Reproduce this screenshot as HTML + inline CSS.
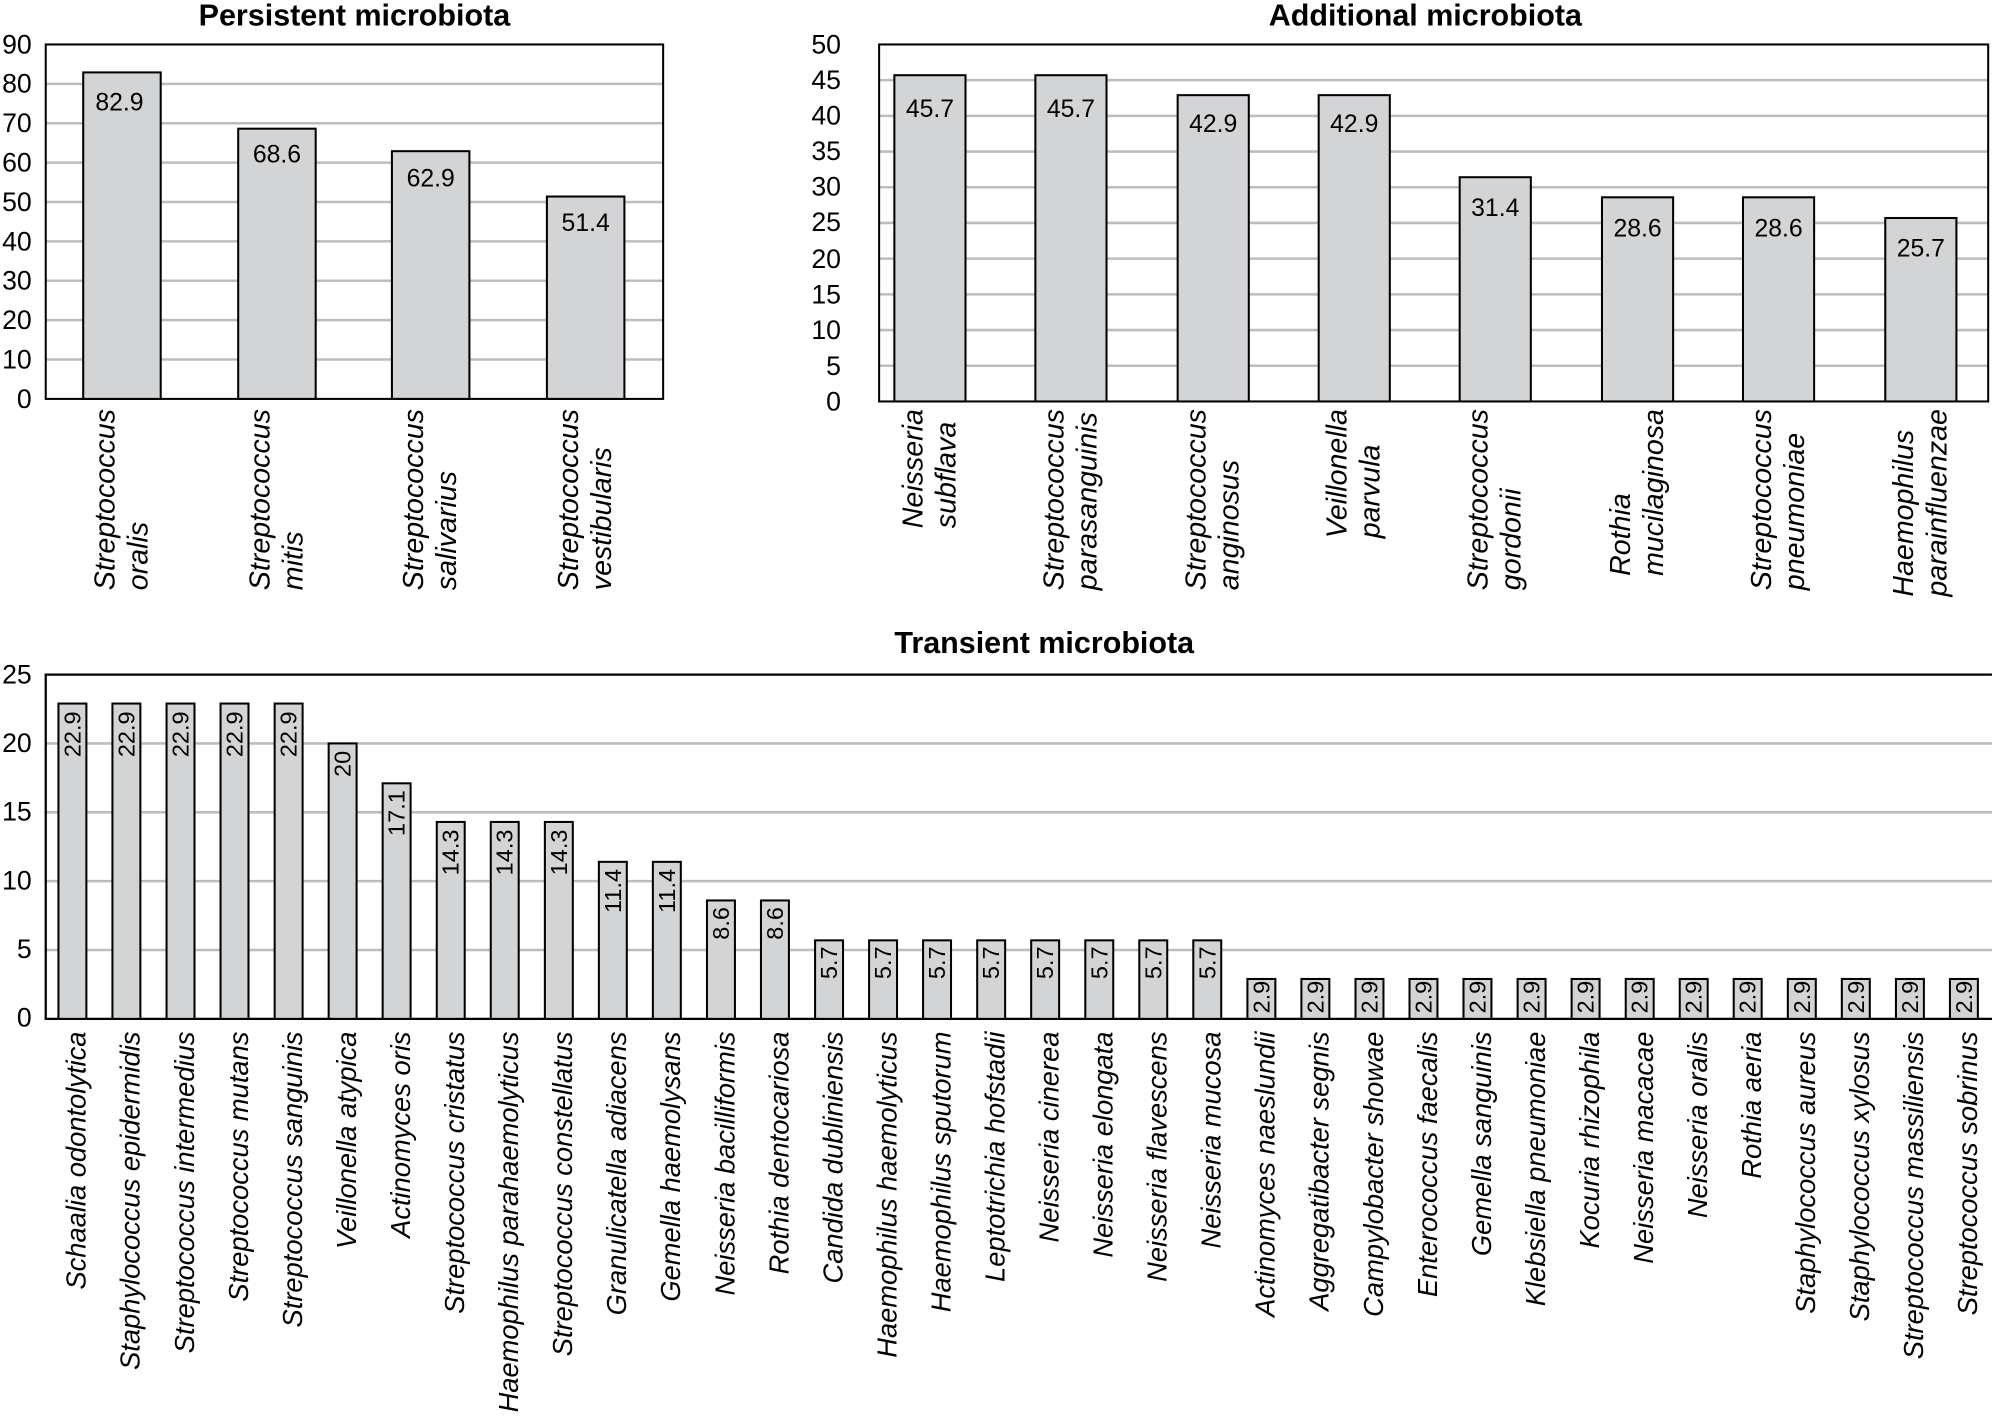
<!DOCTYPE html>
<html><head><meta charset="utf-8"><style>
html,body{margin:0;padding:0;background:#fff;width:1992px;height:1427px;overflow:hidden}
#w{position:absolute;left:0;top:0;width:1568px;height:1123px;transform:scale(1.2704);transform-origin:0 0}
svg{position:absolute;left:0;top:0}
text{font-family:"Liberation Sans",sans-serif}
.t{font-weight:bold;font-size:24px;text-anchor:middle}
.k{font-size:21px;text-anchor:end}
.v{font-size:19.5px;text-anchor:middle}
.rv{font-size:18.5px;text-anchor:end;dominant-baseline:central}
.xl{font-size:21.5px;font-style:italic;text-anchor:end;dominant-baseline:central}
.g{stroke:#bdbdbd;stroke-width:2}
.b{fill:#d3d4d6;stroke:#000;stroke-width:1.6}
.lab{position:absolute;top:322px;font-family:"Liberation Sans",sans-serif;font-style:italic;font-size:22.5px;line-height:26px;writing-mode:vertical-rl;transform:translateX(-50%) rotate(180deg);white-space:nowrap;text-align:start}
</style></head><body><div id="w">
<svg width="1568" height="1123" viewBox="0 0 1568 1123">
<!-- Persistent -->
<text class="t" x="279" y="20">Persistent microbiota</text>
<g class="g"><line x1="36" x2="522" y1="66" y2="66"/><line x1="36" x2="522" y1="97" y2="97"/><line x1="36" x2="522" y1="128" y2="128"/><line x1="36" x2="522" y1="159" y2="159"/><line x1="36" x2="522" y1="190" y2="190"/><line x1="36" x2="522" y1="221" y2="221"/><line x1="36" x2="522" y1="252" y2="252"/><line x1="36" x2="522" y1="283" y2="283"/></g>
<rect x="36" y="35" width="486" height="279" fill="none" stroke="#000" stroke-width="1.6"/>
<g class="k"><text x="25" y="42">90</text><text x="25" y="73">80</text><text x="25" y="104">70</text><text x="25" y="135">60</text><text x="25" y="166">50</text><text x="25" y="197">40</text><text x="25" y="228">30</text><text x="25" y="259">20</text><text x="25" y="290">10</text><text x="25" y="321">0</text></g>
<rect class="b" x="65.5" y="57" width="61" height="257"/>
<rect class="b" x="187.5" y="101.3" width="61" height="212.7"/>
<rect class="b" x="308.5" y="119" width="61" height="195"/>
<rect class="b" x="430.5" y="154.7" width="61" height="159.3"/>
<g class="v"><text x="94" y="87">82.9</text><text x="218" y="128">68.6</text><text x="339" y="147">62.9</text><text x="461" y="182">51.4</text></g>
<!-- Additional -->
<text class="t" x="1122" y="20">Additional microbiota</text>
<g class="g"><line x1="692" x2="1565" y1="63.1" y2="63.1"/><line x1="692" x2="1565" y1="91.2" y2="91.2"/><line x1="692" x2="1565" y1="119.3" y2="119.3"/><line x1="692" x2="1565" y1="147.4" y2="147.4"/><line x1="692" x2="1565" y1="175.5" y2="175.5"/><line x1="692" x2="1565" y1="203.6" y2="203.6"/><line x1="692" x2="1565" y1="231.7" y2="231.7"/><line x1="692" x2="1565" y1="259.8" y2="259.8"/><line x1="692" x2="1565" y1="287.9" y2="287.9"/></g>
<rect x="692" y="35" width="873" height="281" fill="none" stroke="#000" stroke-width="1.6"/>
<g class="k"><text x="662" y="42">50</text><text x="662" y="70">45</text><text x="662" y="98">40</text><text x="662" y="126">35</text><text x="662" y="154">30</text><text x="662" y="182">25</text><text x="662" y="211">20</text><text x="662" y="239">15</text><text x="662" y="267">10</text><text x="662" y="295">5</text><text x="662" y="323">0</text></g>
<rect class="b" x="704" y="59.2" width="56" height="256.8"/>
<rect class="b" x="815" y="59.2" width="56" height="256.8"/>
<rect class="b" x="927" y="74.9" width="56" height="241.1"/>
<rect class="b" x="1038" y="74.9" width="56" height="241.1"/>
<rect class="b" x="1149" y="139.5" width="56" height="176.5"/>
<rect class="b" x="1261" y="155.3" width="56" height="160.7"/>
<rect class="b" x="1372" y="155.3" width="56" height="160.7"/>
<rect class="b" x="1484" y="171.6" width="56" height="144.4"/>
<g class="v"><text x="732" y="92">45.7</text><text x="843" y="92">45.7</text><text x="955" y="104">42.9</text><text x="1066" y="104">42.9</text><text x="1177" y="170">31.4</text><text x="1289" y="186">28.6</text><text x="1400" y="186">28.6</text><text x="1512" y="202">25.7</text></g>
<!-- Transient -->
<text class="t" x="822" y="514">Transient microbiota</text>
<g class="g"><line x1="36" x2="1568" y1="585.2" y2="585.2"/><line x1="36" x2="1568" y1="639.4" y2="639.4"/><line x1="36" x2="1568" y1="693.6" y2="693.6"/><line x1="36" x2="1568" y1="747.8" y2="747.8"/></g>
<polyline points="1568,531 36,531 36,802 1568,802" fill="none" stroke="#000" stroke-width="1.8"/>
<g class="k"><text x="25" y="538">25</text><text x="25" y="592">20</text><text x="25" y="646">15</text><text x="25" y="700">10</text><text x="25" y="754">5</text><text x="25" y="808">0</text></g>
<g transform="translate(57,0)"><rect class="b" x="-11" y="553.8" width="22" height="248.2"/><text class="rv" transform="translate(0,560) rotate(-90)">22.9</text><text class="xl" transform="translate(3,812) rotate(-90)">Schaalia odontolytica</text></g>
<g transform="translate(99.5,0)"><rect class="b" x="-11" y="553.8" width="22" height="248.2"/><text class="rv" transform="translate(0,560) rotate(-90)">22.9</text><text class="xl" transform="translate(3,812) rotate(-90)">Staphylococcus epidermidis</text></g>
<g transform="translate(142.1,0)"><rect class="b" x="-11" y="553.8" width="22" height="248.2"/><text class="rv" transform="translate(0,560) rotate(-90)">22.9</text><text class="xl" transform="translate(3,812) rotate(-90)">Streptococcus intermedius</text></g>
<g transform="translate(184.6,0)"><rect class="b" x="-11" y="553.8" width="22" height="248.2"/><text class="rv" transform="translate(0,560) rotate(-90)">22.9</text><text class="xl" transform="translate(3,812) rotate(-90)">Streptococcus mutans</text></g>
<g transform="translate(227.2,0)"><rect class="b" x="-11" y="553.8" width="22" height="248.2"/><text class="rv" transform="translate(0,560) rotate(-90)">22.9</text><text class="xl" transform="translate(3,812) rotate(-90)">Streptococcus sanguinis</text></g>
<g transform="translate(269.7,0)"><rect class="b" x="-11" y="585.2" width="22" height="216.8"/><text class="rv" transform="translate(0,591) rotate(-90)">20</text><text class="xl" transform="translate(3,812) rotate(-90)">Veillonella atypica</text></g>
<g transform="translate(312.2,0)"><rect class="b" x="-11" y="616.6" width="22" height="185.4"/><text class="rv" transform="translate(0,622) rotate(-90)">17.1</text><text class="xl" transform="translate(3,812) rotate(-90)">Actinomyces oris</text></g>
<g transform="translate(354.8,0)"><rect class="b" x="-11" y="647" width="22" height="155"/><text class="rv" transform="translate(0,653) rotate(-90)">14.3</text><text class="xl" transform="translate(3,812) rotate(-90)">Streptococcus cristatus</text></g>
<g transform="translate(397.3,0)"><rect class="b" x="-11" y="647" width="22" height="155"/><text class="rv" transform="translate(0,653) rotate(-90)">14.3</text><text class="xl" transform="translate(3,812) rotate(-90)">Haemophilus parahaemolyticus</text></g>
<g transform="translate(439.9,0)"><rect class="b" x="-11" y="647" width="22" height="155"/><text class="rv" transform="translate(0,653) rotate(-90)">14.3</text><text class="xl" transform="translate(3,812) rotate(-90)">Streptococcus constellatus</text></g>
<g transform="translate(482.4,0)"><rect class="b" x="-11" y="678.4" width="22" height="123.6"/><text class="rv" transform="translate(0,684) rotate(-90)">11.4</text><text class="xl" transform="translate(3,812) rotate(-90)">Granulicatella adiacens</text></g>
<g transform="translate(524.9,0)"><rect class="b" x="-11" y="678.4" width="22" height="123.6"/><text class="rv" transform="translate(0,684) rotate(-90)">11.4</text><text class="xl" transform="translate(3,812) rotate(-90)">Gemella haemolysans</text></g>
<g transform="translate(567.5,0)"><rect class="b" x="-11" y="708.8" width="22" height="93.2"/><text class="rv" transform="translate(0,714) rotate(-90)">8.6</text><text class="xl" transform="translate(3,812) rotate(-90)">Neisseria bacilliformis</text></g>
<g transform="translate(610,0)"><rect class="b" x="-11" y="708.8" width="22" height="93.2"/><text class="rv" transform="translate(0,714) rotate(-90)">8.6</text><text class="xl" transform="translate(3,812) rotate(-90)">Rothia dentocariosa</text></g>
<g transform="translate(652.6,0)"><rect class="b" x="-11" y="740.2" width="22" height="61.8"/><text class="rv" transform="translate(0,745) rotate(-90)">5.7</text><text class="xl" transform="translate(3,812) rotate(-90)">Candida dubliniensis</text></g>
<g transform="translate(695.1,0)"><rect class="b" x="-11" y="740.2" width="22" height="61.8"/><text class="rv" transform="translate(0,745) rotate(-90)">5.7</text><text class="xl" transform="translate(3,812) rotate(-90)">Haemophilus haemolyticus</text></g>
<g transform="translate(737.6,0)"><rect class="b" x="-11" y="740.2" width="22" height="61.8"/><text class="rv" transform="translate(0,745) rotate(-90)">5.7</text><text class="xl" transform="translate(3,812) rotate(-90)">Haemophilus sputorum</text></g>
<g transform="translate(780.2,0)"><rect class="b" x="-11" y="740.2" width="22" height="61.8"/><text class="rv" transform="translate(0,745) rotate(-90)">5.7</text><text class="xl" transform="translate(3,812) rotate(-90)">Leptotrichia hofstadii</text></g>
<g transform="translate(822.7,0)"><rect class="b" x="-11" y="740.2" width="22" height="61.8"/><text class="rv" transform="translate(0,745) rotate(-90)">5.7</text><text class="xl" transform="translate(3,812) rotate(-90)">Neisseria cinerea</text></g>
<g transform="translate(865.3,0)"><rect class="b" x="-11" y="740.2" width="22" height="61.8"/><text class="rv" transform="translate(0,745) rotate(-90)">5.7</text><text class="xl" transform="translate(3,812) rotate(-90)">Neisseria elongata</text></g>
<g transform="translate(907.8,0)"><rect class="b" x="-11" y="740.2" width="22" height="61.8"/><text class="rv" transform="translate(0,745) rotate(-90)">5.7</text><text class="xl" transform="translate(3,812) rotate(-90)">Neisseria flavescens</text></g>
<g transform="translate(950.3,0)"><rect class="b" x="-11" y="740.2" width="22" height="61.8"/><text class="rv" transform="translate(0,745) rotate(-90)">5.7</text><text class="xl" transform="translate(3,812) rotate(-90)">Neisseria mucosa</text></g>
<g transform="translate(992.9,0)"><rect class="b" x="-11" y="770.6" width="22" height="31.4"/><text class="rv" transform="translate(0,772) rotate(-90)">2.9</text><text class="xl" transform="translate(3,812) rotate(-90)">Actinomyces naeslundii</text></g>
<g transform="translate(1035.4,0)"><rect class="b" x="-11" y="770.6" width="22" height="31.4"/><text class="rv" transform="translate(0,772) rotate(-90)">2.9</text><text class="xl" transform="translate(3,812) rotate(-90)">Aggregatibacter segnis</text></g>
<g transform="translate(1078,0)"><rect class="b" x="-11" y="770.6" width="22" height="31.4"/><text class="rv" transform="translate(0,772) rotate(-90)">2.9</text><text class="xl" transform="translate(3,812) rotate(-90)">Campylobacter showae</text></g>
<g transform="translate(1120.5,0)"><rect class="b" x="-11" y="770.6" width="22" height="31.4"/><text class="rv" transform="translate(0,772) rotate(-90)">2.9</text><text class="xl" transform="translate(3,812) rotate(-90)">Enterococcus faecalis</text></g>
<g transform="translate(1163,0)"><rect class="b" x="-11" y="770.6" width="22" height="31.4"/><text class="rv" transform="translate(0,772) rotate(-90)">2.9</text><text class="xl" transform="translate(3,812) rotate(-90)">Gemella sanguinis</text></g>
<g transform="translate(1205.6,0)"><rect class="b" x="-11" y="770.6" width="22" height="31.4"/><text class="rv" transform="translate(0,772) rotate(-90)">2.9</text><text class="xl" transform="translate(3,812) rotate(-90)">Klebsiella pneumoniae</text></g>
<g transform="translate(1248.1,0)"><rect class="b" x="-11" y="770.6" width="22" height="31.4"/><text class="rv" transform="translate(0,772) rotate(-90)">2.9</text><text class="xl" transform="translate(3,812) rotate(-90)">Kocuria rhizophila</text></g>
<g transform="translate(1290.7,0)"><rect class="b" x="-11" y="770.6" width="22" height="31.4"/><text class="rv" transform="translate(0,772) rotate(-90)">2.9</text><text class="xl" transform="translate(3,812) rotate(-90)">Neisseria macacae</text></g>
<g transform="translate(1333.2,0)"><rect class="b" x="-11" y="770.6" width="22" height="31.4"/><text class="rv" transform="translate(0,772) rotate(-90)">2.9</text><text class="xl" transform="translate(3,812) rotate(-90)">Neisseria oralis</text></g>
<g transform="translate(1375.7,0)"><rect class="b" x="-11" y="770.6" width="22" height="31.4"/><text class="rv" transform="translate(0,772) rotate(-90)">2.9</text><text class="xl" transform="translate(3,812) rotate(-90)">Rothia aeria</text></g>
<g transform="translate(1418.3,0)"><rect class="b" x="-11" y="770.6" width="22" height="31.4"/><text class="rv" transform="translate(0,772) rotate(-90)">2.9</text><text class="xl" transform="translate(3,812) rotate(-90)">Staphylococcus aureus</text></g>
<g transform="translate(1460.8,0)"><rect class="b" x="-11" y="770.6" width="22" height="31.4"/><text class="rv" transform="translate(0,772) rotate(-90)">2.9</text><text class="xl" transform="translate(3,812) rotate(-90)">Staphylococcus xylosus</text></g>
<g transform="translate(1503.4,0)"><rect class="b" x="-11" y="770.6" width="22" height="31.4"/><text class="rv" transform="translate(0,772) rotate(-90)">2.9</text><text class="xl" transform="translate(3,812) rotate(-90)">Streptococcus massiliensis</text></g>
<g transform="translate(1545.9,0)"><rect class="b" x="-11" y="770.6" width="22" height="31.4"/><text class="rv" transform="translate(0,772) rotate(-90)">2.9</text><text class="xl" transform="translate(3,812) rotate(-90)">Streptococcus sobrinus</text></g>
</svg>
<div class="lab" style="left:96px">Streptococcus<br>oralis</div>
<div class="lab" style="left:218px">Streptococcus<br>mitis</div>
<div class="lab" style="left:339px">Streptococcus<br>salivarius</div>
<div class="lab" style="left:461px">Streptococcus<br>vestibularis</div>
<div class="lab" style="left:732px">Neisseria<br>subflava</div>
<div class="lab" style="left:843px">Streptococcus<br>parasanguinis</div>
<div class="lab" style="left:955px">Streptococcus<br>anginosus</div>
<div class="lab" style="left:1066px">Veillonella<br>parvula</div>
<div class="lab" style="left:1177px">Streptococcus<br>gordonii</div>
<div class="lab" style="left:1289px">Rothia<br>mucilaginosa</div>
<div class="lab" style="left:1400px">Streptococcus<br>pneumoniae</div>
<div class="lab" style="left:1512px">Haemophilus<br>parainfluenzae</div>
</div></body></html>
